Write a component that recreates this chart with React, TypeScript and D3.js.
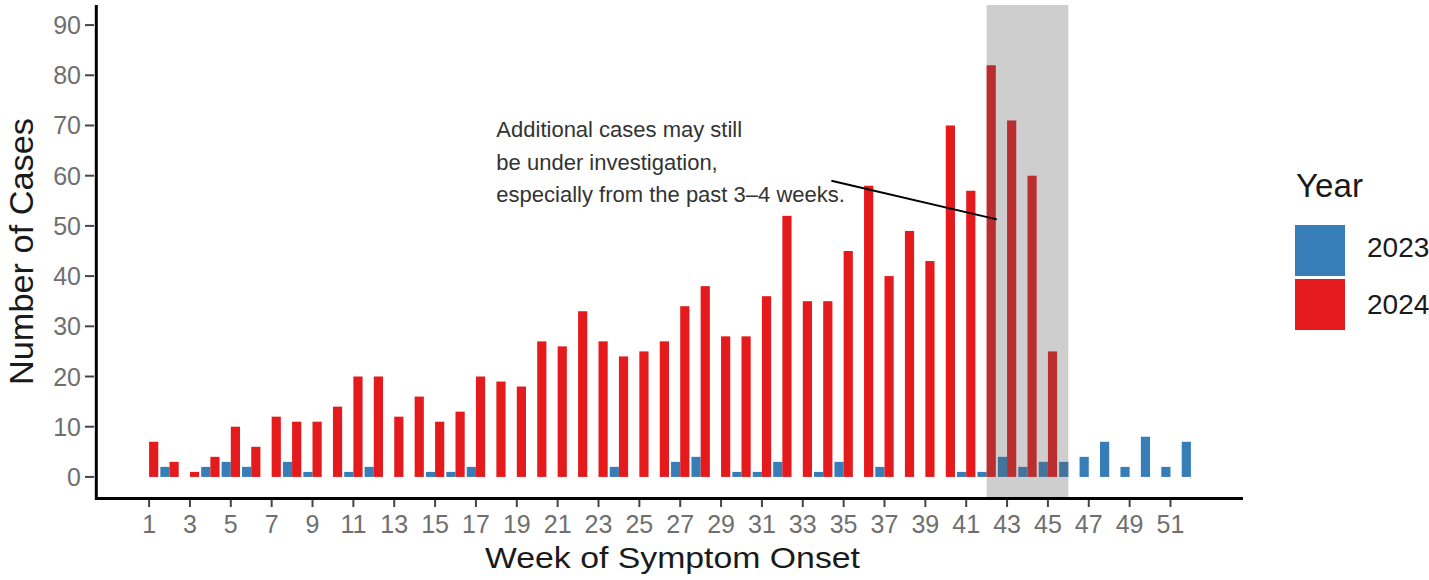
import React from 'react';
import * as d3 from 'd3';

const weeks = [
  1, 2, 3, 4, 5, 6, 7, 8, 9, 10, 11, 12, 13, 14, 15, 16, 17, 18, 19, 20, 21, 22, 23, 24, 25, 26,
  27, 28, 29, 30, 31, 32, 33, 34, 35, 36, 37, 38, 39, 40, 41, 42, 43, 44, 45, 46, 47, 48, 49, 50, 51, 52,
];

// 2023 cases per week
const cases2023 = [
  0, 2, 0, 2, 3, 2, 0, 3, 1, 0, 1, 2, 0, 0, 1, 1, 2, 0, 0, 0, 0, 0, 0, 2, 0, 0,
  3, 4, 0, 1, 1, 3, 0, 1, 3, 0, 2, 0, 0, 0, 1, 1, 4, 2, 3, 3, 4, 7, 2, 8, 2, 7,
];

// 2024 cases per week (no data after week 45)
const cases2024 = [
  7, 3, 1, 4, 10, 6, 12, 11, 11, 14, 20, 20, 12, 16, 11, 13, 20, 19, 18, 27, 26, 33, 27, 24, 25, 27,
  34, 38, 28, 28, 36, 52, 35, 35, 45, 58, 40, 49, 43, 70, 57, 82, 71, 60, 25, 0, 0, 0, 0, 0, 0, 0,
];

const xTicks = [1, 3, 5, 7, 9, 11, 13, 15, 17, 19, 21, 23, 25, 27, 29, 31, 33, 35, 37, 39, 41, 43, 45, 47, 49, 51];
const yTicks = [0, 10, 20, 30, 40, 50, 60, 70, 80, 90];

const years = ['2023', '2024'];
const colors = ['#377EB8', '#E41A1C'];

const noteLines = [
  'Additional cases may still',
  'be under investigation,',
  'especially from the past 3\u20134 weeks.',
];

const FONT = '"Liberation Sans", Arial, sans-serif';

export default function App() {
  const panel = { left: 97, right: 1243, top: 5, bottom: 497 };

  const x = d3.scaleLinear().domain([-1.55, 54.55]).range([panel.left, panel.right]);
  const y = d3.scaleLinear().domain([-4, 94]).range([panel.bottom, panel.top]);

  const barW = (x(1.9) - x(1)) / 2;

  const bars: { w: number; v: number; k: number }[] = [];
  weeks.forEach((w, i) => {
    if (cases2023[i] > 0) bars.push({ w, v: cases2023[i], k: 0 });
    if (cases2024[i] > 0) bars.push({ w, v: cases2024[i], k: 1 });
  });

  return (
    <div style={{ position: 'absolute', left: 0, top: 0 }}>
      <svg width={1429} height={580} style={{ display: 'block', background: '#fff' }} fontFamily={FONT}>
        {/* bars */}
        {bars.map((d, i) => (
          <rect
            key={i}
            x={d.k === 0 ? x(d.w) - barW : x(d.w)}
            y={y(d.v)}
            width={barW}
            height={y(0) - y(d.v)}
            fill={colors[d.k]}
          />
        ))}

        {/* shaded recent weeks */}
        <rect
          x={x(42)}
          y={panel.top}
          width={x(46) - x(42)}
          height={panel.bottom - panel.top}
          fill="#5c5c5c"
          fillOpacity={0.3}
        />

        {/* annotation */}
        {noteLines.map((t, i) => (
          <text key={i} x={x(18)} y={137 + i * 32.5} fontSize={22} fill="#333">
            {t}
          </text>
        ))}
        <line x1={x(34.4)} y1={y(59)} x2={x(42.5)} y2={y(51.3)} stroke="#000" strokeWidth={2} />

        {/* y axis */}
        {yTicks.map((t) => (
          <g key={t}>
            <line x1={85} x2={94} y1={y(t)} y2={y(t)} stroke="#444" strokeWidth={2} />
            <text x={81} y={y(t)} dy="0.36em" textAnchor="end" fontSize={25} fill="#6f6f6f">
              {t}
            </text>
          </g>
        ))}
        <line x1={96.3} x2={96.3} y1={panel.top} y2={500} stroke="#000" strokeWidth={3} />

        {/* x axis */}
        {xTicks.map((t) => (
          <g key={t}>
            <line x1={x(t)} x2={x(t)} y1={500} y2={507} stroke="#444" strokeWidth={2} />
            <text x={x(t)} y={533} textAnchor="middle" fontSize={25} fill="#6f6f6f">
              {t}
            </text>
          </g>
        ))}
        <line x1={95} x2={panel.right} y1={498.5} y2={498.5} stroke="#000" strokeWidth={3} />

        {/* axis titles */}
        <text
          x={672.5}
          y={568}
          textAnchor="middle"
          fontSize={29}
          fill="#1a1a1a"
          textLength={375}
          lengthAdjust="spacingAndGlyphs"
        >
          Week of Symptom Onset
        </text>
        <text
          transform="translate(33,251.5) rotate(-90)"
          textAnchor="middle"
          fontSize={34}
          fill="#1a1a1a"
          textLength={267}
          lengthAdjust="spacingAndGlyphs"
        >
          Number of Cases
        </text>

        {/* legend */}
        <text x={1296} y={197} fontSize={33} fill="#1a1a1a" textLength={67} lengthAdjust="spacingAndGlyphs">
          Year
        </text>
        {years.map((yr, i) => (
          <g key={yr}>
            <rect x={1295} y={225 + i * 54} width={50} height={51} fill={colors[i]} />
            <text x={1367} y={257 + i * 57} fontSize={28} fill="#1a1a1a">
              {yr}
            </text>
          </g>
        ))}
      </svg>
    </div>
  );
}
